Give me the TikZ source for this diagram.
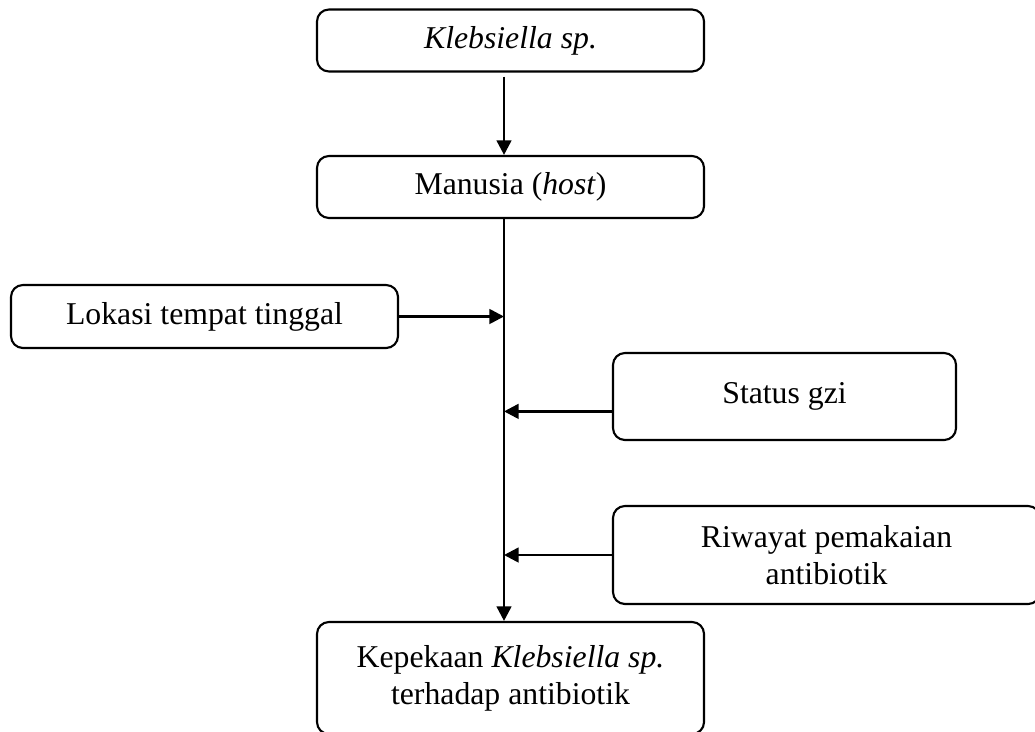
\documentclass[tikz,border=0pt]{standalone}
\usepackage{fontspec}
\setmainfont{Liberation Serif}
\usetikzlibrary{arrows.meta,calc}

\begin{document}
\begin{tikzpicture}[x=0.378pt, y=-0.378pt, font=\fontsize{12}{14}\selectfont,
  box/.style={draw, line width=0.8pt, rounded corners=4.5pt, align=center, inner sep=0pt},
  link/.style={line width=1pt, -{Triangle[length=5.5pt,width=5.5pt]}}]
\useasboundingbox (0,0) rectangle (1035,731);
\clip (0,0) rectangle (1035,731);
% main column
\node[box, minimum width=387*0.378pt, minimum height=62*0.378pt] (kleb) at (510.5,40.5) {\textit{Klebsiella sp.}};
\node[box, minimum width=387*0.378pt, minimum height=62*0.378pt] (host) at (510.5,187) {Manusia (\textit{host})};
\node[box, minimum width=387*0.378pt, minimum height=112*0.378pt] (peka) at (510.5,678) {Kepekaan \textit{Klebsiella sp.}\\terhadap antibiotik};
% factors
\node[box, minimum width=387*0.378pt, minimum height=63*0.378pt] (lokasi) at (204.5,316.5) {Lokasi tempat tinggal};
\node[box, minimum width=343*0.378pt, minimum height=87*0.378pt] (gizi) at (784.5,396.5) {Status gzi};
\node[box, minimum width=427*0.378pt, minimum height=98*0.378pt] (riwayat) at (826.5,555) {Riwayat pemakaian\\antibiotik};
\coordinate (spine) at (504,0);
% arrows
\draw[link] ([yshift=-1.5pt]kleb.south -| spine) -- (host.north -| spine);
\draw[link] (host.south -| spine) -- (peka.north -| spine);
\draw[link] (lokasi.east) -- (lokasi.east -| spine);
\coordinate (giziout) at ($(gizi.north west)!0.667!(gizi.south west)$);
\draw[link] (giziout) -- (giziout -| spine);
\draw[link] (riwayat.west) -- (riwayat.west -| spine);
\end{tikzpicture}
\end{document}
